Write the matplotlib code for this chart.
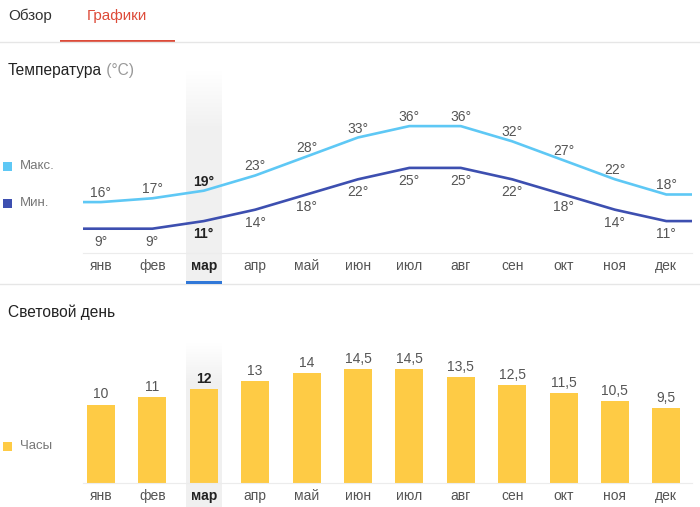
import numpy as np
import matplotlib
matplotlib.use('Agg')
import matplotlib.pyplot as plt
from matplotlib.patches import Rectangle

plt.rcParams['font.family'] = ['Liberation Sans', 'DejaVu Sans']

# data
months = ['янв', 'фев', 'мар', 'апр', 'май', 'июн',
          'июл', 'авг', 'сен', 'окт', 'ноя', 'дек']
t_max = [16, 17, 19, 23, 28, 33, 36, 36, 32, 27, 22, 18]
t_min = [9, 9, 11, 14, 18, 22, 25, 25, 22, 18, 14, 11]
daylight = [10, 11, 12, 13, 14, 14.5, 14.5, 13.5, 12.5, 11.5, 10.5, 9.5]
current = 2  # март

C_MAX = '#5ec8f5'
C_MIN = '#3d4fb0'
C_BAR = '#fecb45'
C_TXT = '#555555'
C_GRID = '#e6e6e6'

W, H = 700, 507
PT = 72 / 100.0  # px -> pt
fig = plt.figure(figsize=(W / 100, H / 100), dpi=100)


def box(left, top, right, bottom):
    return [left / W, 1 - bottom / H, (right - left) / W, (bottom - top) / H]


bg = fig.add_axes([0, 0, 1, 1], zorder=0)
bg.set_xlim(0, W)
bg.set_ylim(H, 0)
bg.axis('off')

# header
bg.text(8, 16, 'Обзор', fontsize=11, color='#333333', va='center')
bg.text(87, 16, 'Графики', fontsize=11, color='#dd4b39', va='center')
bg.axhline(42, color=C_GRID, lw=1)
bg.add_patch(Rectangle((60, 40), 115, 2.2, color='#dd4b39', lw=0))
t1 = bg.text(8, 70, 'Температура', fontsize=11.2, color='#222222', va='center')
bg.annotate(' (°C)', xy=(1, 0.5), xycoords=t1, fontsize=11.2, color='#999999', va='center')
bg.axhline(284, color=C_GRID, lw=1)
bg.text(8, 312, 'Световой день', fontsize=11.2, color='#222222', va='center')

# legends
for y, c, lab in [(166, C_MAX, 'Макс.'), (203, C_MIN, 'Мин.'), (446, C_BAR, 'Часы')]:
    bg.add_patch(Rectangle((3, y - 4.5), 9, 9, color=c, lw=0))
    bg.text(20, y, lab, fontsize=9.5, color='#777777', va='center')

x = np.arange(len(months))
xlim = (-0.35, 11.5)

# temperature chart
ax = fig.add_axes(box(83, 60, 692, 253), zorder=1)
ax.set_facecolor('none')
ax.set_xlim(*xlim)
ax.set_ylim(2.6, 53.4)
xe = np.r_[xlim[0], x, xlim[1]]
ax.plot(xe, np.pad(t_max, 1, mode='edge'), color=C_MAX, lw=1.9, solid_capstyle='butt')
ax.plot(xe, np.pad(t_min, 1, mode='edge'), color=C_MIN, lw=1.9, solid_capstyle='butt')
for i in x:
    bold = i == current
    kw = dict(fontsize=10, ha='center', va='center', textcoords='offset points',
              color='#222222' if bold else C_TXT, fontweight='bold' if bold else 'normal')
    ax.annotate(f'{t_max[i]}°', (i, t_max[i]), xytext=(0, 9 * PT), **kw)
    ax.annotate(f'{t_min[i]}°', (i, t_min[i]), xytext=(0, -13 * PT), **kw)

# daylight chart
ax2 = fig.add_axes(box(83, 340, 692, 483), zorder=1)
ax2.set_facecolor('none')
ax2.set_xlim(*xlim)
ax2.set_ylim(0, 143 / 7.85)
ax2.bar(x, daylight, width=0.545, color=C_BAR, lw=0)
for i in x:
    bold = i == current
    lab = f'{daylight[i]:g}'.replace('.', ',')
    ax2.annotate(lab, (i, daylight[i]), xytext=(0, 10 * PT), textcoords='offset points',
                 fontsize=10, ha='center', va='center',
                 color='#222222' if bold else C_TXT, fontweight='bold' if bold else 'normal')

for a in (ax, ax2):
    for s in ('top', 'left', 'right'):
        a.spines[s].set_visible(False)
    a.spines['bottom'].set_color('#ececec')
    a.set_yticks([])
    a.set_xticks([])
    for i in x:
        bold = i == current
        a.annotate(months[i], (i, 0), xycoords=('data', 'axes fraction'),
                   xytext=(0, -13 * PT), textcoords='offset points',
                   fontsize=10, ha='center', va='center',
                   color='#222222' if bold else C_TXT,
                   fontweight='bold' if bold else 'normal')

# highlight column for current month (gradient), drawn in pixel space
def column(a, top, bottom, ramp):
    x0 = a.transData.transform((current - 0.35, 0))[0]
    x1 = a.transData.transform((current + 0.35, 0))[0]
    yy = np.linspace(top, bottom, 200)
    img = np.ones((200, 1, 4))
    img[..., :3] = 0.945
    img[:, 0, 3] = np.clip((yy - top) / ramp, 0, 1)
    bg.imshow(img, extent=[x0, x1, bottom, top], aspect='auto', zorder=0,
              interpolation='bilinear')
    return x0, x1


x0, x1 = column(ax, 70, 283, 60)
column(ax2, 343, 507, 40)
bg.set_xlim(0, W)
bg.set_ylim(H, 0)
bg.add_patch(Rectangle((x0, 280.5), x1 - x0, 3, color='#3178d8', lw=0, zorder=3))

fig.savefig('out.png', dpi=100)
